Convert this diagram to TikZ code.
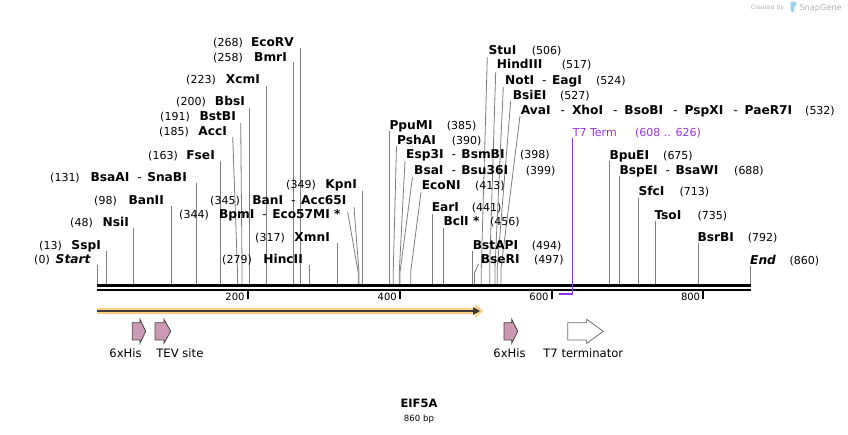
\documentclass[tikz,border=0pt]{standalone}
\usepackage{fontspec}
\setmainfont{DejaVu Sans}
\usetikzlibrary{arrows.meta}
\definecolor{cutline}{RGB}{125,125,125}
\definecolor{featpink}{RGB}{204,153,181}
\definecolor{featedge}{RGB}{70,70,70}
\definecolor{termedge}{RGB}{110,110,110}
\definecolor{termpurple}{RGB}{155,50,230}
\definecolor{cdsglow}{RGB}{255,208,128}
\definecolor{cdsline}{RGB}{60,60,60}
\definecolor{wmgray}{RGB}{180,180,180}
\definecolor{wmblue}{RGB}{160,210,240}
\newcommand{\numf}{\fontsize{11}{13}\selectfont}
\newcommand{\enzf}{\fontsize{12.2}{14}\selectfont\bfseries}
\newcommand{\tickf}{\fontsize{10}{12}\selectfont}
\newcommand{\featf}{\fontsize{11.6}{14}\selectfont}
\newcommand{\enzsep}{\hspace{8pt}{\mdseries -}\hspace{5.5pt}}
\newcommand{\enzsepw}{\hspace{10pt}{\mdseries -}\hspace{7pt}}
% left label: id, number, text, number-end x, name-end x, centre y
\newcommand{\lsite}[6]{%
  \node[numtxt, anchor=base east] (#1-n) at (#4,#6+4.2) {(#2)};
  \node[enztxt, anchor=base east] (#1) at (#5,#6+4.2) {#3};}
% right label: id, number, text, name-start x, number-start x, centre y
\newcommand{\rsite}[6]{%
  \node[enztxt, anchor=base west] (#1) at (#4,#6+4.2) {#3};
  \node[numtxt, anchor=base west] (#1-n) at (#5,#6+4.2) {(#2)};}
% straight cut line: id, bp, top y
\newcommand{\cutv}[3]{%
  \coordinate (#1-t) at ({97+0.7595*#2},#3);
  \coordinate (#1-b) at ({97+0.7595*#2},284);
  \draw[cut] (#1-t) -- (#1-b);}
% bent cut line: id, bp, top x, top y, bend y
\newcommand{\cuta}[5]{%
  \coordinate (#1-t) at (#3,#4);
  \coordinate (#1-k) at ({97+0.7595*#2},#5);
  \coordinate (#1-b) at ({97+0.7595*#2},284);
  \draw[cut] (#1-t) -- (#1-k) -- (#1-b);}
% feature arrow: style, x0, shoulder x, tip x
\newcommand{\featarrow}[4]{%
  \draw[#1] (#2,322.7) -- (#3,322.7) -- (#3,319.3) -- (#4,331.3) -- (#3,343.3) -- (#3,339.9) -- (#2,339.9) -- cycle;}
\begin{document}
\begin{tikzpicture}[x=1pt,y=-1pt,
  numtxt/.style={inner sep=0pt, font=\numf},
  enztxt/.style={inner sep=0pt, font=\enzf},
  ticktxt/.style={inner sep=0pt, font=\tickf, anchor=east},
  feattxt/.style={inner sep=0pt, font=\featf, anchor=base},
  cut/.style={draw=cutline, line width=0.8pt},
  pinkfeat/.style={fill=featpink, draw=featedge, line width=0.8pt},
  termfeat/.style={fill=white, draw=termedge, line width=0.8pt}]
\useasboundingbox[fill=white] (0,0) rectangle (848,434);

% ---- cut lines ----
\cutv{Start}{0}{265}
\cutv{SspI}{13}{251}
\cutv{NsiI}{48}{228}
\cutv{BanII}{98}{206}
\cutv{SnaBI}{131}{183}
\cutv{FseI}{163}{161}
\cuta{AccI}{185}{232.7}{137}{272}
\cuta{BstBI}{191}{240.7}{123}{272}
\cutv{BbsI}{200}{108}
\cutv{XcmI}{223}{86}
\cutv{BmrI}{258}{62}
\cutv{EcoRV}{268}{48}
\cutv{HincII}{279}{265}
\cutv{XmnI}{317}{243}
\cuta{Eco57MI}{344}{347.7}{212}{273}
\cuta{Acc65I}{345}{354}{207}{273}
\cutv{KpnI}{349}{191}
\cutv{PpuMI}{385}{131}
\cuta{PshAI}{390}{396.5}{146}{272}
\cuta{Esp3I}{398}{405}{161}{272}
\cuta{BsaI}{399}{412.5}{177}{272}
\cuta{EcoNI}{413}{421}{192}{272}
\cutv{EarI}{441}{214}
\cutv{BclI}{456}{228}
\cutv{BstAPI}{494}{251}
\cuta{BseRI}{497}{478.5}{264}{273}
\cuta{StuI}{506}{487.3}{57}{268}
\cuta{HindIII}{517}{495.7}{72}{268}
\cuta{NotI}{524}{503.3}{87}{268}
\cuta{BsiEI}{527}{510.7}{101}{268}
\cuta{AvaI}{532}{520}{116}{268}
\cutv{BpuEI}{675}{161}
\cutv{BspEI}{688}{176}
\cutv{SfcI}{713}{198}
\cutv{TsoI}{735}{221}
\cutv{BsrBI}{792}{243}
\cutv{End}{860}{266}

% ---- backbone ----
\draw[line width=2.4pt] (96.5,285.4) -- (751,285.4);
\draw[line width=2.4pt] (96.5,289.7) -- (751,289.7);
\foreach \tx/\tl in {247.7/200, 400/400, 551.7/600, 703.3/800}{
  \draw[line width=1.7pt] (\tx,290.5) -- (\tx,298.5);
  \node[ticktxt] (tick\tl) at (\tx-3,296.8) {\tl};
}

% ---- T7 terminator marker ----
\coordinate (T7top) at (572.4,138);
\coordinate (T7corner) at (572.4,294);
\coordinate (T7start) at (558.8,294);
\draw[termpurple, line width=1.3pt] (T7top) -- (T7corner) -- (T7start);
\node[numtxt, text=termpurple, anchor=base west] (T7) at (572.7,136.2) {T7 Term};
\node[numtxt, text=termpurple, anchor=base west] (T7-n) at (635,136.2) {(608 .. 626)};

% ---- left labels ----
\lsite{Start}{0}{\textit{Start}}{50}{91}{259}
\lsite{SspIl}{13}{SspI}{62}{101}{245}
\lsite{NsiIl}{48}{NsiI}{93}{129}{222}
\lsite{BanIIl}{98}{BanII}{117}{164}{200}
\lsite{SnaBIl}{131}{BsaAI\enzsep SnaBI}{80}{187}{177}
\lsite{FseIl}{163}{FseI}{178}{215}{155}
\lsite{AccIl}{185}{AccI}{189}{227}{131}
\lsite{BstBIl}{191}{BstBI}{190}{236}{116}
\lsite{BbsIl}{200}{BbsI}{206}{245}{101}
\lsite{XcmIl}{223}{XcmI}{216}{260}{79}
\lsite{BmrIl}{258}{BmrI}{243}{287}{57}
\lsite{EcoRVl}{268}{EcoRV}{243}{294}{42}
\lsite{HincIIl}{279}{HincII}{252}{303}{259}
\lsite{XmnIl}{317}{XmnI}{285}{330}{237}
\lsite{Eco57MIl}{344}{BpmI\enzsep Eco57MI *}{209}{340.7}{214}
\lsite{Acc65Il}{345}{BanI\enzsep Acc65I}{240}{346.7}{200}
\lsite{KpnIl}{349}{KpnI}{316}{357}{184}

% ---- right labels ----
\rsite{PpuMIl}{385}{PpuMI}{389.3}{446.7}{125}
\rsite{PshAIl}{390}{PshAI}{397}{451.7}{140}
\rsite{Esp3Il}{398}{Esp3I\enzsep BsmBI}{406}{520}{154.3}
\rsite{BsaIl}{399}{BsaI\enzsep Bsu36I}{414}{525.7}{170}
\rsite{EcoNIl}{413}{EcoNI}{421.7}{475}{185}
\rsite{EarIl}{441}{EarI}{431.7}{471.7}{207.3}
\rsite{BclIl}{456}{BclI *}{443.3}{490}{221.7}
\rsite{BstAPIl}{494}{BstAPI}{472.7}{531.7}{245}
\rsite{BseRIl}{497}{BseRI}{480.7}{534}{259.3}
\rsite{StuIl}{506}{StuI}{488.3}{531.7}{50}
\rsite{HindIIIl}{517}{HindIII}{496.7}{561.7}{64.3}
\rsite{NotIl}{524}{NotI\enzsep EagI}{505}{596}{80}
\rsite{BsiEIl}{527}{BsiEI}{512.7}{560}{95}
\rsite{AvaIl}{532}{AvaI\enzsepw XhoI\enzsepw BsoBI\enzsepw PspXI\enzsepw PaeR7I}{520.7}{805}{110}
\rsite{BpuEIl}{675}{BpuEI}{609.3}{663}{155}
\rsite{BspEIl}{688}{BspEI\enzsep BsaWI}{619.3}{734}{170}
\rsite{SfcIl}{713}{SfcI}{638.3}{679.3}{191.7}
\rsite{TsoIl}{735}{TsoI}{654.3}{697.3}{215}
\rsite{BsrBIl}{792}{BsrBI}{697.3}{747.7}{237.3}
\rsite{Endl}{860}{\textit{End}}{750}{789.3}{260}

% ---- CDS arrow ----
\coordinate (cdsS) at (97,311);
\coordinate (cdsE) at (483.3,311);
\coordinate (cdsEi) at (480,311);
\draw[cdsglow, line width=6.5pt, -{Triangle[length=8pt,width=13pt]}] (cdsS) -- (cdsE);
\draw[cdsline, line width=2pt, -{Triangle[length=7pt,width=7.5pt]}] (cdsS) -- (cdsEi);

% ---- features ----
\featarrow{pinkfeat}{132.3}{140}{145.7}
\featarrow{pinkfeat}{155}{164}{170.7}
\featarrow{pinkfeat}{504}{511.7}{517.7}
\featarrow{termfeat}{567.7}{586.7}{603.3}
\node[feattxt] (f1) at (125.5,357) {6xHis};
\node[feattxt] (f2) at (179.9,357) {TEV site};
\node[feattxt] (f3) at (509.5,357) {6xHis};
\node[feattxt] (f4) at (583.3,357) {T7 terminator};

% ---- title ----
\node[inner sep=0pt, font=\fontsize{11.5}{13}\selectfont\bfseries, anchor=base] (title) at (419,407.3) {EIF5A};
\node[inner sep=0pt, font=\fontsize{8.6}{10}\selectfont, anchor=base] (len) at (419,421.2) {860 bp};

% ---- watermark ----
\node[inner sep=0pt, anchor=base west, font=\fontsize{6}{7}\selectfont, text=wmgray] (wm1) at (750.7,9.2) {Created by};
\fill[wmblue, rounded corners=0.8pt] (790.6,1.5) -- (795.2,1.5) -- (797,4.2) -- (794.2,7) -- (793.6,12.6) -- (790.6,11.2) -- cycle;
\node[inner sep=0pt, anchor=base west, font=\fontsize{8.2}{9}\selectfont, text=wmgray] (wm2) at (799.3,10.2) {SnapGene};
\end{tikzpicture}
\end{document}
